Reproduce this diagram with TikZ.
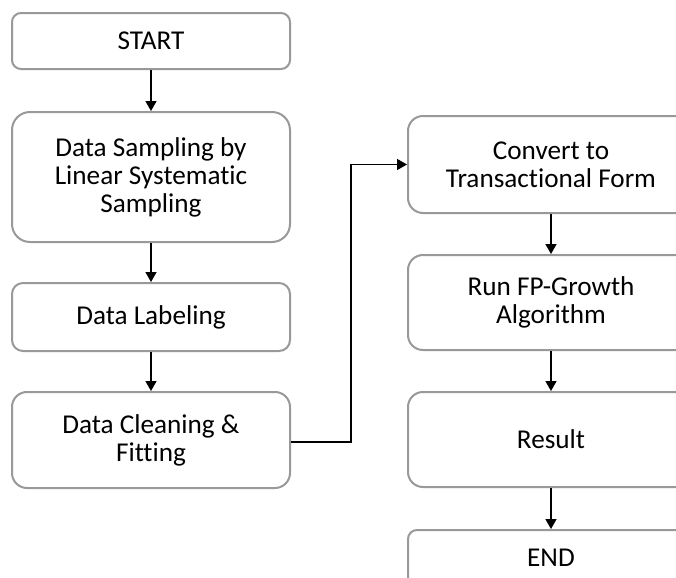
\documentclass[tikz,border=0pt]{standalone}
\usepackage{fontspec}
\setmainfont[Ligatures=NoCommon]{Carlito}
\usepackage{tikz}
\usetikzlibrary{arrows.meta}
\usetikzlibrary{positioning,calc}
\tikzset{
    stepbox/.style={
        draw=black!40,
        line width=1pt,
        rounded corners=5pt,
        fill=white,
        align=center,
        inner sep=2pt,
        font=\fontsize{13.6}{14}\selectfont
    },
    flow/.style={
        draw,
        -{Triangle[length=5pt, width=5.5pt]},
        line width=0.7pt
    }
}

\begin{document}
\begin{tikzpicture}[x=0.5pt, y=-0.5pt]
    % page frame (pixel grid of the figure)
    \useasboundingbox (0,0) rectangle (676,578);
    \clip (0,0) rectangle (676,578);

    % Left column
    \node[stepbox, minimum width=139pt, minimum height=28pt, rounded corners=4.5pt] (start) at (151,41) {START};
    \node[stepbox, minimum width=139pt, minimum height=65pt, rounded corners=9pt] (sampling) at (151,177) {Data Sampling by\\Linear Systematic\\Sampling};
    \node[stepbox, minimum width=139pt, minimum height=34pt, rounded corners=5.5pt] (labeling) at (151,317) {Data Labeling};
    \node[stepbox, minimum width=139pt, minimum height=48pt, rounded corners=7.5pt] (cleaning) at (151,440) {Data Cleaning \&\\Fitting};

    % Right column
    \node[stepbox, minimum width=143pt, minimum height=48.5pt, rounded corners=7.5pt] (convert) at (551,164.5) {Convert to\\Transactional Form};
    \node[stepbox, minimum width=143pt, minimum height=47.5pt, rounded corners=7.5pt] (growth) at (551,302.5) {Run FP-Growth\\Algorithm};
    \node[stepbox, minimum width=143pt, minimum height=47.5pt, rounded corners=7.5pt] (result) at (551,439.5) {Result};
    \node[stepbox, minimum width=143pt, minimum height=28pt, rounded corners=4.5pt, anchor=north] (finish) at (551,529) {END};

    % Connectors
    \draw[flow] (start) -- (sampling);
    \draw[flow] (sampling) -- (labeling);
    \draw[flow] (labeling) -- (cleaning);
    \coordinate (bend) at (351,442);
    \draw[flow] (cleaning.east |- bend) -- (bend) |- (convert.west);
    \draw[flow] (convert) -- (growth);
    \draw[flow] (growth) -- (result);
    \draw[flow] (result) -- (finish);
\end{tikzpicture}
\end{document}
